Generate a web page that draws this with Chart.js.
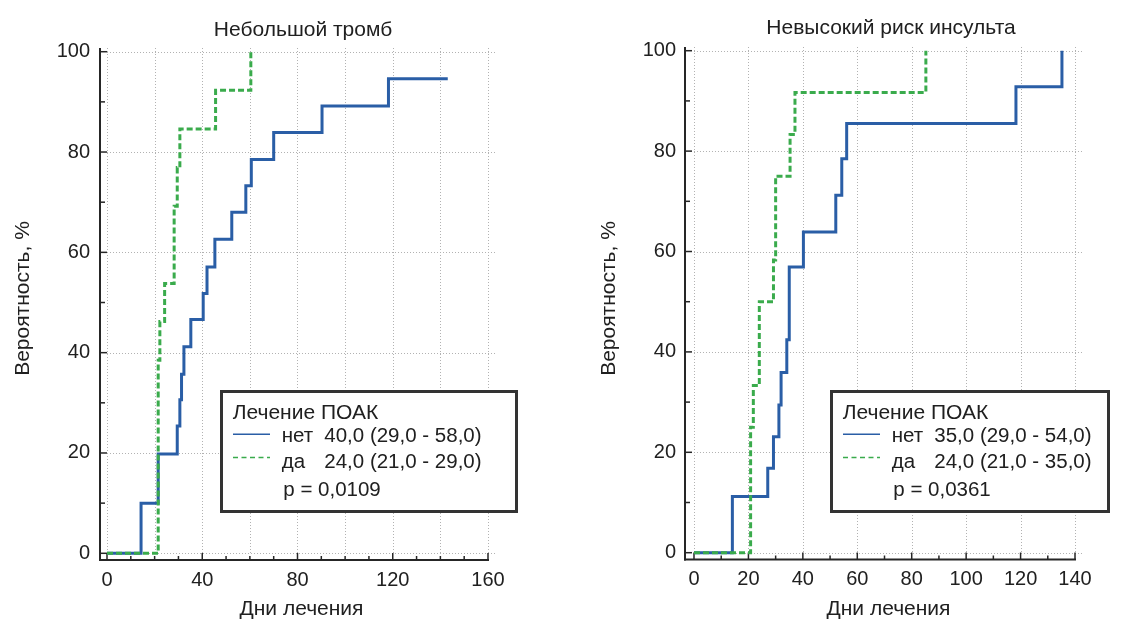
<!DOCTYPE html>
<html><head><meta charset="utf-8">
<script src="https://cdn.jsdelivr.net/npm/chart.js@4/dist/chart.umd.min.js"></script>
<style>
html,body{margin:0;padding:0;background:#fff;width:1124px;height:621px;overflow:hidden}
.wrap{position:absolute;top:0;width:562px;height:621px}
canvas{display:block}
</style></head><body>
<div class="wrap" style="left:0"><canvas id="c1" width="562" height="621"></canvas></div>
<div class="wrap" style="left:562px"><canvas id="c2" width="562" height="621"></canvas></div>
<script>
// ---- texts ----
const leftTitle = 'Небольшой тромб';
const rightTitle = 'Невысокий риск инсульта';
const xAxisTitle = 'Дни лечения';
const yAxisTitle = 'Вероятность, %';
const legendTitle = 'Лечение ПОАК';
const groupNames = ['нет', 'да'];
const leftStats = ['40,0 (29,0 - 58,0)', '24,0 (21,0 - 29,0)'];
const rightStats = ['35,0 (29,0 - 54,0)', '24,0 (21,0 - 35,0)'];
const leftP = 'p = 0,0109';
const rightP = 'p = 0,0361';

// ---- tick labels ----
const leftXTicks = [0, 40, 80, 120, 160];
const rightXTicks = [0, 20, 40, 60, 80, 100, 120, 140];
const yTicks = [0, 20, 40, 60, 80, 100];

// ---- data: left panel (Небольшой тромб) ----
const leftNoDays  = [0, 14.3, 21.5, 29.5, 30.6, 31.3, 32.3, 35.2, 40.4, 42.0, 45.3, 52.4, 58.3, 60.6, 70.0, 90.3, 118.2, 143.1];
const leftNoProb  = [0, 10.0, 19.8, 25.4, 30.6, 35.7, 41.2, 46.6, 51.8, 57.1, 62.6, 68.0, 73.3, 78.5, 83.9, 89.2, 94.6, 94.6];
const leftYesDays = [0, 21.5, 22.2, 24.2, 28.2, 29.5, 30.6, 45.6, 60.4];
const leftYesProb = [0, 38.5, 46.2, 53.8, 69.2, 76.9, 84.6, 92.3, 100];

// ---- data: right panel (Невысокий риск инсульта) ----
const rightNoDays  = [0, 14.1, 27.1, 29.2, 31.2, 32.0, 34.1, 35.0, 40.2, 52.1, 54.3, 56.1, 118.3, 135.2];
const rightNoProb  = [0, 11.2, 16.8, 23.1, 29.4, 35.9, 42.4, 56.9, 63.9, 71.2, 78.5, 85.5, 92.8, 100];
const rightYesDays = [0, 20.8, 21.8, 24.0, 29.2, 30.0, 35.3, 37.1, 85.2];
const rightYesProb = [0, 25.0, 33.3, 50.0, 58.3, 75.0, 83.3, 91.7, 100];

const FONT = '"Liberation Sans", Arial, sans-serif';
const TXT = '#202020';
const BLUE = '#2a5ea6';
const GREEN = '#3aab4c';

function pts(xs, ys) { return xs.map((x, i) => ({ x: x, y: ys[i] })); }

function line(ctx, x1, y1, x2, y2) { ctx.beginPath(); ctx.moveTo(x1, y1); ctx.lineTo(x2, y2); ctx.stroke(); }

const decor = {
  id: 'kmDecor',
  beforeDatasetsDraw(chart, args, o) {
    const { ctx, chartArea: a, scales: { x, y } } = chart;
    const x0 = x.getPixelForValue(0), y0 = y.getPixelForValue(0);
    ctx.save();
    // dotted grid
    ctx.strokeStyle = '#b2b2b2'; ctx.lineWidth = 1; ctx.setLineDash([1, 2]);
    for (let v = 0; v <= o.xMax; v += 20) {
      const px = Math.round(x.getPixelForValue(v)) + 0.5;
      line(ctx, px, a.top, px, y0);
    }
    for (let v = 0; v <= 100; v += 20) {
      const py = Math.round(y.getPixelForValue(v)) + 0.5;
      line(ctx, x0, py, a.right, py);
    }
    ctx.setLineDash([]);
    // axis lines
    ctx.strokeStyle = '#262626'; ctx.lineWidth = 2;
    line(ctx, a.left, a.top, a.left, a.bottom + 1);
    line(ctx, a.left - 1, a.bottom, x.getPixelForValue(o.xMax) + 1, a.bottom);
    // inward ticks
    ctx.lineWidth = 1.5;
    for (let v = 0; v <= 100; v += 10) {
      const py = y.getPixelForValue(v);
      line(ctx, a.left, py, a.left + (v % 20 === 0 ? 7 : 5), py);
    }
    for (let v = 0; v <= o.xMax; v += 10) {
      const px = x.getPixelForValue(v);
      line(ctx, px, a.bottom, px, a.bottom - (o.xLabels.includes(v) ? 7 : 4));
    }
    // titles
    ctx.fillStyle = TXT;
    ctx.font = '21px ' + FONT;
    ctx.textAlign = 'center'; ctx.textBaseline = 'alphabetic';
    ctx.fillText(o.title, o.titleX, o.titleY);
    ctx.fillText(xAxisTitle, o.xtX, o.xtY);
    ctx.save();
    ctx.translate(o.ytX, o.ytY); ctx.rotate(-Math.PI / 2);
    ctx.fillText(yAxisTitle, 0, 0);
    ctx.restore();
    ctx.restore();
  },
  afterDatasetsDraw(chart, args, o) {
    const ctx = chart.ctx;
    const L = o.box;
    ctx.save();
    ctx.fillStyle = '#fff';
    ctx.fillRect(L.x, L.y, L.w, L.h);
    ctx.strokeStyle = '#333'; ctx.lineWidth = 3;
    ctx.strokeRect(L.x + 1.5, L.y + 1.5, L.w - 3, L.h - 3);
    ctx.fillStyle = TXT;
    ctx.textAlign = 'left'; ctx.textBaseline = 'alphabetic';
    ctx.font = '21px ' + FONT;
    ctx.fillText(legendTitle, L.x + 12.7, L.y + 29.3);
    ctx.font = '20.5px ' + FONT;
    ctx.fillText(groupNames[0], L.x + 61.7, L.y + 51.7);
    ctx.fillText(o.stats[0], L.x + 104.3, L.y + 51.7);
    ctx.fillText(groupNames[1], L.x + 61.7, L.y + 77.7);
    ctx.fillText(o.stats[1], L.x + 104.3, L.y + 77.7);
    ctx.fillText(o.p, L.x + 63.3, L.y + 106);
    ctx.lineWidth = 1.5;
    ctx.strokeStyle = BLUE;
    line(ctx, L.x + 13, L.y + 44.3, L.x + 50, L.y + 44.3);
    ctx.strokeStyle = GREEN; ctx.setLineDash([5, 3.5]);
    line(ctx, L.x + 13, L.y + 67.5, L.x + 50, L.y + 67.5);
    ctx.restore();
  }
};

function makeChart(id, cfg) {
  const tickFont = { family: FONT, size: 20 };
  return new Chart(document.getElementById(id), {
    type: 'line',
    data: {
      datasets: [
        { label: groupNames[1], data: pts(cfg.yesDays, cfg.yesProb), borderColor: GREEN, borderWidth: 3,
          borderDash: [6, 3], stepped: 'before', pointRadius: 0, fill: false, order: 0, borderJoinStyle: 'miter' },
        { label: groupNames[0], data: pts(cfg.noDays, cfg.noProb), borderColor: BLUE, borderWidth: 3,
          stepped: 'before', pointRadius: 0, fill: false, order: 1, borderJoinStyle: 'miter' }
      ]
    },
    options: {
      responsive: false, animation: false, devicePixelRatio: 1,
      layout: { padding: { left: 0, right: cfg.padRight, top: cfg.padTop, bottom: 0 } },
      plugins: {
        legend: { display: false }, tooltip: { enabled: false }, title: { display: false },
        kmDecor: cfg.decor
      },
      scales: {
        x: {
          type: 'linear', min: cfg.xMin, max: cfg.xMax,
          afterBuildTicks: s => { s.ticks = cfg.xTicks.map(v => ({ value: v })); },
          afterFit: s => { s.height = cfg.xHeight; },
          ticks: { font: tickFont, color: TXT, padding: 8, maxRotation: 0, autoSkip: false, callback: v => String(v) },
          grid: { display: false, drawTicks: false }, border: { display: false }
        },
        y: {
          type: 'linear', min: cfg.yMin, max: cfg.yMax,
          afterBuildTicks: s => { s.ticks = yTicks.map(v => ({ value: v })); },
          afterFit: s => { s.width = cfg.yWidth; },
          ticks: { font: tickFont, color: TXT, padding: cfg.yPad, autoSkip: false, callback: v => String(v) },
          grid: { display: false, drawTicks: false }, border: { display: false }
        }
      }
    },
    plugins: [decor]
  });
}

// left panel: plot area 100..497 x 48..560 (0 at 107/553.3, 160 at 488, 100 at 51.7)
makeChart('c1', {
  noDays: leftNoDays, noProb: leftNoProb, yesDays: leftYesDays, yesProb: leftYesProb,
  xTicks: leftXTicks, xMin: -2.94, xMax: 163.78, yMin: -1.336, yMax: 100.74,
  padRight: 65, padTop: 48, xHeight: 61, yWidth: 100, yPad: 10,
  decor: { xMax: 160, xLabels: leftXTicks, title: leftTitle, titleX: 303, titleY: 36,
    xtX: 301.5, xtY: 615, ytX: 28.5, ytY: 298.5,
    box: { x: 220, y: 390, w: 298, h: 123 }, stats: leftStats, p: leftP }
});

// right panel: plot area 685..1082 x 47..559.5 (0 at 694/552.7, 140 at 1075, 100 at 50.7)
makeChart('c2', {
  noDays: rightNoDays, noProb: rightNoProb, yesDays: rightYesDays, yesProb: rightYesProb,
  xTicks: rightXTicks, xMin: -3.307, xMax: 142.57, yMin: -1.355, yMax: 100.74,
  padRight: 42, padTop: 47, xHeight: 61.5, yWidth: 123, yPad: 9,
  decor: { xMax: 140, xLabels: rightXTicks, title: rightTitle, titleX: 329, titleY: 34,
    xtX: 326.5, xtY: 615, ytX: 53, ytY: 298.5,
    box: { x: 268, y: 390, w: 280, h: 123 }, stats: rightStats, p: rightP }
});
</script>
</body></html>
